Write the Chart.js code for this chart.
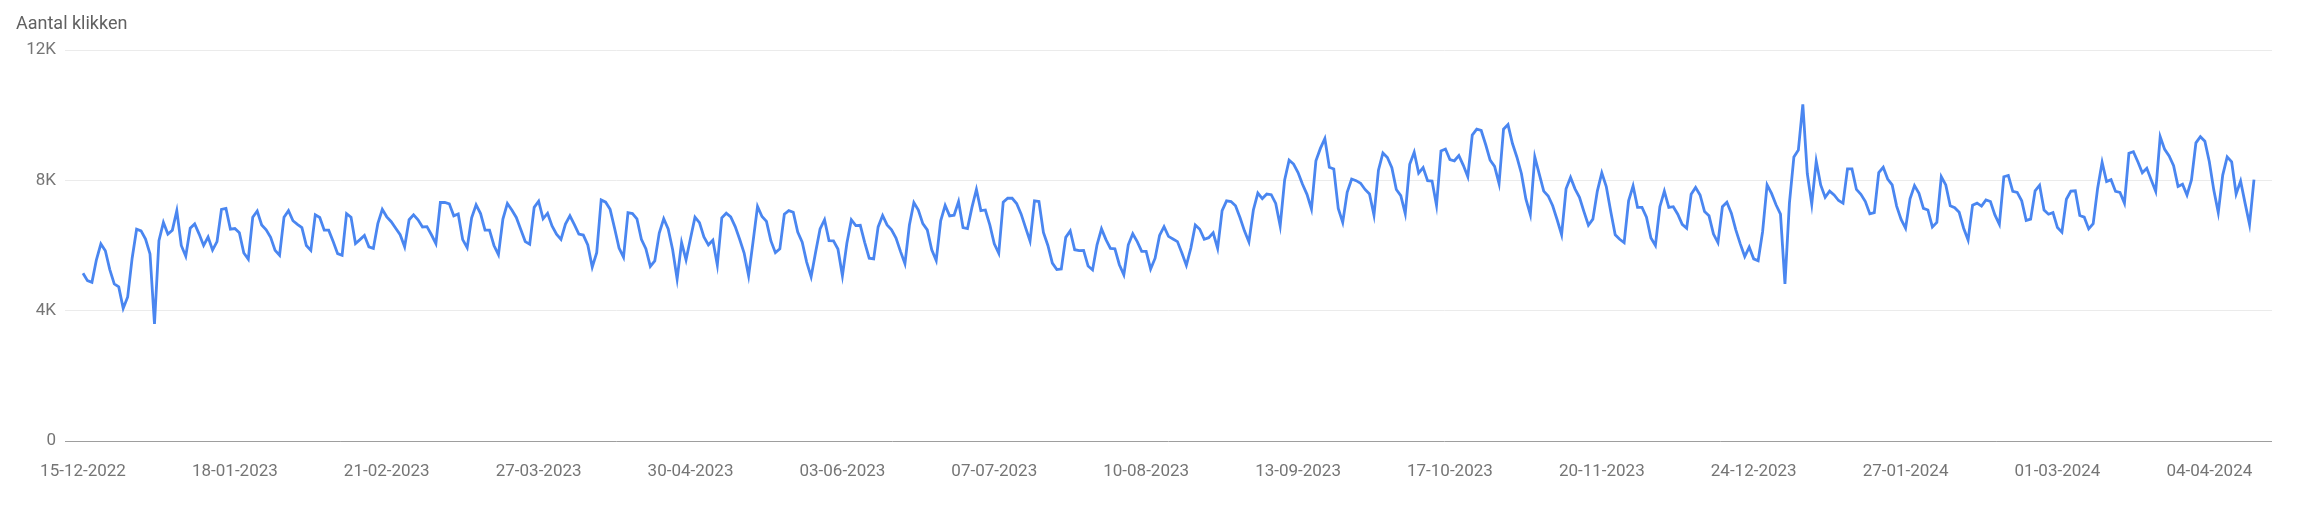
<!DOCTYPE html>
<html>
<head>
<meta charset="utf-8">
<script src="https://cdn.jsdelivr.net/npm/chart.js@4"></script>
<style>
  html, body { margin: 0; padding: 0; background: #fff; }
  #wrap { width: 2304px; height: 508px; }
</style>
</head>
<body>
<div id="wrap"><canvas id="clicksChart" width="2304" height="508"></canvas></div>
<script>
// dagelijkse klikken vanaf 15-12-2022
const clicks = [
  5150, 4920, 4870, 5560, 6050, 5840, 5260, 4820, 4730, 4070, 4420, 5610, 6500, 6450, 6200, 5740, 3590,
  6150, 6710, 6350, 6470, 7070, 6000, 5670, 6530, 6660, 6350, 6000, 6260, 5860, 6120, 7110, 7140, 6500,
  6520, 6390, 5770, 5580, 6870, 7060, 6630, 6480, 6250, 5850, 5700, 6870, 7070, 6760, 6650, 6550, 6000,
  5850, 6940, 6860, 6470, 6470, 6120, 5750, 5700, 6980, 6870, 6060, 6180, 6310, 5960, 5910, 6670, 7110,
  6880, 6730, 6530, 6330, 5960, 6790, 6940, 6790, 6570, 6580, 6330, 6060, 7320, 7320, 7280, 6910, 6970,
  6180, 5930, 6850, 7250, 6980, 6470, 6470, 6000, 5720, 6810, 7290, 7090, 6860, 6490, 6120, 6040, 7170,
  7360, 6820, 6990, 6600, 6350, 6190, 6660, 6910, 6640, 6350, 6320, 6020, 5340, 5780, 7400, 7330, 7110,
  6530, 5920, 5640, 7010,
  6980, 6820, 6190, 5900, 5360, 5530, 6380, 6820, 6510, 5870, 4970, 6090, 5560, 6220, 6870, 6700, 6260,
  6020, 6160, 5400, 6850, 6990, 6880, 6580, 6190, 5770, 5070, 6120, 7200, 6890, 6740, 6140, 5780, 5900,
  6960, 7070, 7020, 6410, 6100, 5490, 5040, 5790, 6510, 6790, 6150, 6140, 5890, 5070, 6070, 6790, 6610,
  6620, 6090, 5610, 5590, 6570, 6920, 6630, 6480, 6230, 5820, 5440, 6630, 7320, 7090, 6670, 6480, 5870,
  5540, 6760, 7230, 6910, 6930, 7350, 6550, 6520, 7170, 7720, 7070, 7090, 6630, 6050, 5760, 7330, 7450,
  7450, 7290, 6970, 6550, 6140, 7370, 7350, 6400, 6000, 5460, 5260, 5280, 6250, 6450, 5870, 5840, 5850,
  5370, 5250, 6020, 6510, 6180, 5910, 5900, 5410, 5100, 6020, 6360, 6120, 5820, 5820, 5280, 5610, 6310,
  6580, 6280, 6200,
  6120, 5770, 5390, 5920, 6630, 6500, 6190, 6240, 6390, 5910, 7070, 7370, 7350, 7220, 6860, 6450, 6110,
  7090, 7610, 7440, 7580, 7560, 7290, 6600, 8010, 8620, 8500, 8240, 7880, 7570, 7120, 8600, 8980, 9280,
  8400, 8350, 7140, 6710, 7630, 8040, 7990, 7910, 7720, 7580, 6930, 8310, 8840, 8700, 8390, 7720, 7530,
  6980, 8490, 8860, 8220, 8390, 7990, 7980, 7230, 8900, 8960, 8640, 8600, 8760, 8460, 8110, 9390, 9570,
  9530, 9100, 8620, 8430, 7900, 9570, 9710, 9130, 8710, 8210, 7430, 6950, 8720, 8190, 7670, 7520, 7220,
  6790, 6330, 7740, 8090, 7740, 7480, 7040, 6620, 6810, 7670, 8230, 7810, 7040, 6330, 6190, 6090, 7370,
  7830, 7170, 7170, 6870, 6230, 6000, 7190, 7670, 7170, 7190, 6960, 6650, 6530, 7570, 7780, 7550, 7040,
  6910, 6350, 6090,
  7190, 7330, 6990, 6480, 6050, 5660, 5950, 5590, 5530, 6430, 7860, 7600, 7250, 6960, 4820, 7300, 8720,
  8930, 10330, 8210, 7270, 8590, 7860, 7480, 7670, 7550, 7380, 7300, 8350, 8350, 7720, 7570, 7350, 6970,
  7010, 8240, 8400, 8040, 7860, 7210, 6800, 6530, 7430, 7840, 7600, 7140, 7090, 6570, 6710, 8110, 7860,
  7220, 7160, 7020, 6530, 6170, 7240, 7300, 7210, 7400, 7350, 6940, 6650, 8110, 8150, 7660, 7630, 7370,
  6770, 6810, 7680, 7850, 7090, 6960, 7010, 6550, 6410, 7420, 7670, 7680, 6920, 6870, 6510, 6670, 7760,
  8550, 7960, 8020, 7660, 7630, 7300, 8830, 8880, 8570, 8230, 8370, 8010, 7660, 9340, 8950, 8750, 8450,
  7810, 7880, 7550, 8010, 9150, 9340, 9200, 8570, 7700, 7010, 8160, 8720, 8570, 7580, 7980, 7300, 6650,
  8020
];

// labels op de x-as, elke 34 dagen
const tickLabels = ['15-12-2022', '18-01-2023', '21-02-2023', '27-03-2023', '30-04-2023',
                    '03-06-2023', '07-07-2023', '10-08-2023', '13-09-2023', '17-10-2023',
                    '20-11-2023', '24-12-2023', '27-01-2024', '01-03-2024', '04-04-2024'];
const tickStep = 34;

const yTicks = [0, 4000, 8000, 12000];

const points = clicks.map((v, i) => ({ x: i, y: v }));

const ctx = document.getElementById('clicksChart').getContext('2d');
new Chart(ctx, {
    type: 'line',
    data: {
        datasets: [{
            label: 'Klikken',
            data: points,
            borderColor: '#4a86f0',
            borderWidth: 2.8,
            pointRadius: 0,
            tension: 0,
            fill: false
        }]
    },
    options: {
        responsive: false,
        animation: false,
        devicePixelRatio: 1,
        layout: { padding: { left: 16, right: 32, top: 0, bottom: 26 } },
        plugins: {
            legend: { display: false },
            tooltip: { enabled: false },
            title: {
                display: true,
                text: 'Aantal klikken',
                align: 'start',
                color: '#616161',
                font: { family: 'Roboto', size: 18, weight: 'normal' },
                padding: { top: 14, bottom: 14.4 }
            }
        },
        scales: {
            x: {
                type: 'linear',
                min: -4.03,
                max: clicks.length - 1 + 4.03,
                grid: { display: false, drawTicks: false },
                border: { display: false },
                afterBuildTicks: (scale) => {
                    scale.ticks = tickLabels.map((_, k) => ({ value: k * tickStep }));
                },
                afterFit: (scale) => { scale.height = 41; },
                ticks: {
                    autoSkip: false,
                    maxRotation: 0,
                    padding: 21,
                    color: '#757575',
                    font: { family: 'Roboto', size: 17 },
                    callback: (value) => tickLabels[Math.round(value / tickStep)]
                }
            },
            y: {
                min: 0,
                max: 12000,
                afterFit: (scale) => { scale.width = 49; },
                afterBuildTicks: (scale) => {
                    scale.ticks = yTicks.map(v => ({ value: v }));
                },
                border: { display: false },
                grid: {
                    drawTicks: false,
                    lineWidth: 1,
                    color: (c) => c.tick && c.tick.value === 0 ? '#9e9e9e' : '#ebebeb'
                },
                ticks: {
                    padding: 9,
                    color: '#757575',
                    font: { family: 'Roboto', size: 17 },
                    callback: (v) => v === 0 ? '0' : (v / 1000) + 'K'
                }
            }
        }
    }
});
</script>
</body>
</html>
